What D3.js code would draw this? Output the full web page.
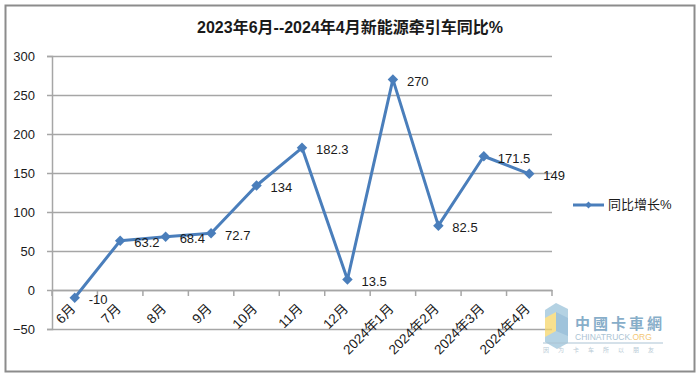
<!DOCTYPE html>
<html>
<head>
<meta charset="utf-8">
<script src="https://cdn.jsdelivr.net/npm/d3@7"></script>
<style>
    html, body { margin: 0; padding: 0; background: #fff; }
    svg { display: block; }
    text { font-family: "Liberation Sans", "Noto Sans CJK SC", sans-serif; }
</style>
</head>
<body>
<div id="chart"></div>
<script>
const months = ['6月', '7月', '8月', '9月', '10月', '11月', '12月', '2024年1月', '2024年2月', '2024年3月', '2024年4月'];
const yoyValues = [-10, 63.2, 68.4, 72.7, 134, 182.3, 13.5, 270, 82.5, 171.5, 149];
const yTicks = [-50, 0, 50, 100, 150, 200, 250, 300];
const seriesName = '同比增长%';
const chartTitle = '2023年6月--2024年4月新能源牵引车同比%';

const width = 699;
const height = 377;
const lineColor = '#4a7ebb';
const gridColor = '#a6a6a6';
const textColor = '#1a1a1a';

const svg = d3.select('#chart').append('svg')
    .attr('width', width)
    .attr('height', height);

// chart frame
svg.append('rect')
    .attr('x', 5.5).attr('y', 5.5)
    .attr('width', 689).attr('height', 366)
    .attr('fill', '#fff')
    .attr('stroke', '#8c8c8c')
    .attr('stroke-width', 2);

svg.append('text')
    .attr('x', 350).attr('y', 33)
    .attr('text-anchor', 'middle')
    .attr('font-size', 16)
    .attr('font-weight', 700)
    .attr('fill', textColor)
    .text(chartTitle);

const plot = { left: 52, right: 552, top: 56, bottom: 329 };

const x = d3.scaleBand()
    .domain(months)
    .range([plot.left, plot.right]);

const y = d3.scaleLinear()
    .domain([-50, 300])
    .range([plot.bottom, plot.top]);

// horizontal grid + y ticks
svg.append('g')
    .attr('transform', `translate(${plot.left},0)`)
    .call(d3.axisLeft(y).tickValues(yTicks).tickSize(5).tickPadding(12))
    .call((g) => g.select('.domain').attr('stroke', gridColor).attr('stroke-width', 1.5))
    .call((g) => g.selectAll('.tick line').attr('stroke', gridColor).attr('stroke-width', 1.5))
    .call((g) => g.selectAll('.tick').append('line')
        .attr('x1', 0).attr('x2', plot.right - plot.left)
        .attr('stroke', gridColor).attr('stroke-width', 1.5))
    .call((g) => g.selectAll('text')
        .attr('fill', textColor)
        .attr('font-size', 13));

// category axis on the zero line
const xAxis = svg.append('g')
    .attr('transform', `translate(0,${y(0)})`)
    .call(d3.axisBottom(x).tickSize(0).tickFormat(''));
xAxis.select('.domain').attr('stroke', gridColor).attr('stroke-width', 1.5);

xAxis.selectAll('.cat-tick')
    .data(d3.range(months.length + 1))
    .enter()
    .append('line')
    .attr('class', 'cat-tick')
    .attr('x1', (i) => plot.left + i * x.step())
    .attr('x2', (i) => plot.left + i * x.step())
    .attr('y1', 0).attr('y2', 6)
    .attr('stroke', gridColor)
    .attr('stroke-width', 1.5);

xAxis.selectAll('.cat-label')
    .data(months)
    .enter()
    .append('text')
    .attr('class', 'cat-label')
    .attr('transform', (d) => `translate(${x(d) + x.bandwidth() / 2 - 1},${17}) rotate(-45)`)
    .attr('text-anchor', 'end')
    .attr('dominant-baseline', 'middle')
    .attr('font-size', 13.5)
    .attr('fill', textColor)
    .text((d) => d);

// series
const points = months.map((m, i) => ({ month: m, value: yoyValues[i] }));
const cx = (d) => x(d.month) + x.bandwidth() / 2;

svg.append('path')
    .datum(points)
    .attr('fill', 'none')
    .attr('stroke', lineColor)
    .attr('stroke-width', 3)
    .attr('stroke-linejoin', 'round')
    .attr('d', d3.line().x(cx).y((d) => y(d.value)));

const diamond = d3.symbol().type(d3.symbolDiamond2).size(70);

svg.selectAll('.marker')
    .data(points)
    .enter()
    .append('path')
    .attr('class', 'marker')
    .attr('transform', (d) => `translate(${cx(d)},${y(d.value)})`)
    .attr('d', diamond)
    .attr('fill', lineColor);

svg.selectAll('.value-label')
    .data(points)
    .enter()
    .append('text')
    .attr('class', 'value-label')
    .attr('x', (d) => cx(d) + 14)
    .attr('y', (d) => y(d.value) + 3)
    .attr('dominant-baseline', 'middle')
    .attr('font-size', 13)
    .attr('fill', textColor)
    .text((d) => d.value);

// legend
const legend = svg.append('g').attr('transform', 'translate(573,205)');
legend.append('line')
    .attr('x1', 0).attr('x2', 31)
    .attr('stroke', lineColor).attr('stroke-width', 3);
legend.append('path')
    .attr('transform', 'translate(15.5,0)')
    .attr('d', d3.symbol().type(d3.symbolDiamond2).size(30))
    .attr('fill', lineColor);
legend.append('text')
    .attr('x', 35).attr('y', 1)
    .attr('dominant-baseline', 'middle')
    .attr('font-size', 13)
    .attr('fill', textColor)
    .text(seriesName);

// watermark
const mark = svg.append('g').attr('opacity', 0.75);
mark.append('path')
    .attr('d', 'M545,310 L556,303 L568,309 L568,343 L557,349 L545,342 Z')
    .attr('fill', '#9cc3da');
mark.append('path')
    .attr('d', 'M545,318 L556,312 L556,331 L545,337 Z')
    .attr('fill', '#f6d66a');
mark.append('path')
    .attr('d', 'M556,312 L568,318 L568,336 L556,331 Z')
    .attr('fill', '#7fb0cf');
mark.append('text')
    .attr('x', 575).attr('y', 329)
    .attr('font-size', 15)
    .attr('font-weight', 700)
    .attr('letter-spacing', 3)
    .attr('fill', '#5f93b8')
    .text('中國卡車網');
mark.append('text')
    .attr('x', 575).attr('y', 340)
    .attr('font-size', 8.5)
    .attr('fill', '#8fb0c6')
    .text('CHINATRUCK')
    .append('tspan')
    .attr('fill', '#f0b54a')
    .text('.ORG');
mark.append('line')
    .attr('x1', 543).attr('x2', 663)
    .attr('y1', 343).attr('y2', 343)
    .attr('stroke', '#8fb0c6');
mark.append('text')
    .attr('x', 543).attr('y', 352)
    .attr('font-size', 6)
    .attr('letter-spacing', 9)
    .attr('fill', '#9fb8c8')
    .text('因为卡车所以朋友');
</script>
</body>
</html>
